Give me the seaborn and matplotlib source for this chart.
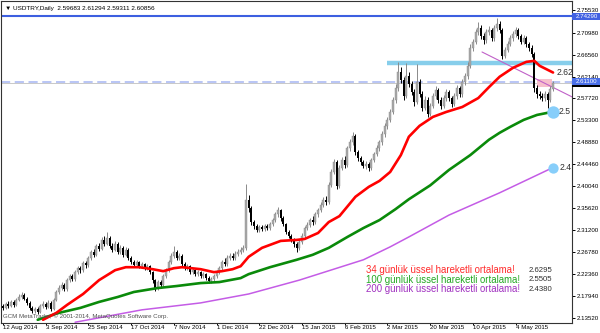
import numpy as np
import matplotlib
matplotlib.use("Agg")
import matplotlib.pyplot as plt
import matplotlib.transforms as mtransforms
from matplotlib.patches import Rectangle
import seaborn as sns

# ---------------- data ----------------
title_text = "\u25bc USDTRY,Daily  2.59683 2.61294 2.59311 2.60856"
first_open = 2.158

closes = [
    2.155, 2.163, 2.159, 2.167, 2.161, 2.171, 2.177, 2.181, 2.173, 2.165,
    2.155, 2.149, 2.153, 2.147, 2.159, 2.163, 2.157, 2.165, 2.153, 2.171,
    2.187, 2.195, 2.201, 2.193, 2.211, 2.219, 2.213, 2.227, 2.235, 2.231,
    2.245, 2.241, 2.256, 2.268, 2.262, 2.280, 2.274, 2.292, 2.284, 2.296,
    2.280, 2.272, 2.284, 2.268, 2.276, 2.262, 2.272, 2.256, 2.247, 2.241,
    2.247, 2.239, 2.243, 2.235, 2.239, 2.227, 2.211, 2.195, 2.207, 2.201,
    2.219, 2.231, 2.247, 2.260, 2.268, 2.256, 2.260, 2.243, 2.235, 2.239,
    2.227, 2.231, 2.223, 2.227, 2.219, 2.223, 2.215, 2.209, 2.213, 2.219,
    2.227, 2.235, 2.247, 2.243, 2.256, 2.260, 2.256, 2.264, 2.268, 2.272,
    2.276, 2.372, 2.356, 2.328, 2.320, 2.312, 2.318, 2.314, 2.320, 2.316,
    2.324, 2.332, 2.344, 2.352, 2.336, 2.324, 2.308, 2.300, 2.292, 2.284,
    2.276, 2.288, 2.300, 2.316, 2.322, 2.332, 2.328, 2.344, 2.352, 2.362,
    2.372, 2.368, 2.403, 2.429, 2.449, 2.401, 2.437, 2.453, 2.443, 2.477,
    2.489, 2.501, 2.469, 2.457, 2.449, 2.441, 2.445, 2.437, 2.453, 2.465,
    2.477, 2.489, 2.506, 2.522, 2.534, 2.550, 2.574, 2.598, 2.630, 2.614,
    2.582, 2.622, 2.606, 2.590, 2.570, 2.610, 2.586, 2.558, 2.574, 2.546,
    2.562, 2.582, 2.594, 2.574, 2.562, 2.578, 2.590, 2.578, 2.566, 2.582,
    2.598, 2.586, 2.610, 2.622, 2.643, 2.679, 2.691, 2.711, 2.719, 2.703,
    2.695, 2.711, 2.715, 2.699, 2.719, 2.727, 2.715, 2.663, 2.675, 2.687,
    2.699, 2.707, 2.715, 2.703, 2.691, 2.699, 2.687, 2.679, 2.667, 2.598,
    2.586, 2.582, 2.578, 2.586, 2.574, 2.59683, 2.60856]

highs = [
    2.163, 2.167, 2.168, 2.171, 2.170, 2.175, 2.183, 2.187, 2.184, 2.176,
    2.168, 2.159, 2.157, 2.156, 2.163, 2.168, 2.166, 2.170, 2.168, 2.175,
    2.192, 2.201, 2.207, 2.205, 2.215, 2.224, 2.223, 2.231, 2.240, 2.239,
    2.249, 2.250, 2.260, 2.272, 2.273, 2.284, 2.286, 2.297, 2.300, 2.308,
    2.299, 2.285, 2.289, 2.287, 2.281, 2.279, 2.277, 2.275, 2.259, 2.251,
    2.252, 2.250, 2.248, 2.246, 2.244, 2.242, 2.230, 2.214, 2.211, 2.212,
    2.223, 2.236, 2.252, 2.265, 2.279, 2.272, 2.266, 2.263, 2.247, 2.244,
    2.242, 2.236, 2.234, 2.232, 2.230, 2.228, 2.226, 2.219, 2.218, 2.224,
    2.232, 2.240, 2.252, 2.255, 2.261, 2.266, 2.265, 2.269, 2.273, 2.277,
    2.282, 2.405, 2.382, 2.360, 2.333, 2.325, 2.323, 2.322, 2.325, 2.324,
    2.329, 2.337, 2.349, 2.358, 2.355, 2.340, 2.327, 2.312, 2.304, 2.296,
    2.288, 2.293, 2.305, 2.321, 2.328, 2.337, 2.340, 2.349, 2.357, 2.368,
    2.378, 2.381, 2.409, 2.435, 2.456, 2.454, 2.443, 2.459, 2.462, 2.482,
    2.495, 2.509, 2.505, 2.474, 2.462, 2.454, 2.451, 2.450, 2.458, 2.470,
    2.483, 2.494, 2.511, 2.528, 2.540, 2.556, 2.580, 2.606, 2.651, 2.641,
    2.620, 2.648, 2.630, 2.612, 2.596, 2.646, 2.616, 2.592, 2.582, 2.580,
    2.569, 2.588, 2.603, 2.599, 2.580, 2.584, 2.596, 2.595, 2.583, 2.588,
    2.604, 2.603, 2.616, 2.629, 2.650, 2.686, 2.698, 2.718, 2.731, 2.725,
    2.709, 2.717, 2.723, 2.720, 2.726, 2.739, 2.733, 2.720, 2.681, 2.693,
    2.705, 2.713, 2.721, 2.719, 2.708, 2.705, 2.703, 2.692, 2.684, 2.671,
    2.604, 2.593, 2.589, 2.592, 2.591, 2.603, 2.61294]

lows = [
    2.150, 2.152, 2.155, 2.156, 2.157, 2.158, 2.168, 2.173, 2.170, 2.161,
    2.151, 2.145, 2.144, 2.142, 2.145, 2.155, 2.153, 2.154, 2.149, 2.150,
    2.168, 2.183, 2.191, 2.189, 2.190, 2.207, 2.209, 2.210, 2.223, 2.226,
    2.228, 2.236, 2.238, 2.252, 2.258, 2.259, 2.270, 2.271, 2.280, 2.281,
    2.276, 2.268, 2.269, 2.264, 2.263, 2.258, 2.259, 2.252, 2.243, 2.237,
    2.238, 2.235, 2.235, 2.231, 2.232, 2.223, 2.206, 2.189, 2.192, 2.196,
    2.198, 2.215, 2.228, 2.243, 2.256, 2.252, 2.251, 2.239, 2.231, 2.231,
    2.223, 2.223, 2.219, 2.219, 2.215, 2.215, 2.211, 2.205, 2.205, 2.209,
    2.215, 2.223, 2.231, 2.239, 2.240, 2.252, 2.252, 2.252, 2.260, 2.264,
    2.268, 2.272, 2.348, 2.322, 2.314, 2.308, 2.307, 2.309, 2.310, 2.311,
    2.312, 2.320, 2.328, 2.339, 2.331, 2.320, 2.303, 2.295, 2.287, 2.278,
    2.268, 2.272, 2.284, 2.296, 2.311, 2.318, 2.323, 2.324, 2.339, 2.348,
    2.358, 2.362, 2.364, 2.398, 2.424, 2.394, 2.397, 2.432, 2.438, 2.440,
    2.472, 2.484, 2.463, 2.451, 2.443, 2.436, 2.435, 2.431, 2.433, 2.449,
    2.461, 2.472, 2.484, 2.500, 2.516, 2.529, 2.545, 2.568, 2.593, 2.608,
    2.575, 2.578, 2.600, 2.584, 2.563, 2.566, 2.580, 2.552, 2.553, 2.540,
    2.542, 2.557, 2.577, 2.568, 2.556, 2.557, 2.573, 2.572, 2.560, 2.561,
    2.577, 2.580, 2.581, 2.605, 2.617, 2.638, 2.673, 2.686, 2.705, 2.697,
    2.688, 2.690, 2.705, 2.693, 2.694, 2.713, 2.709, 2.657, 2.658, 2.670,
    2.682, 2.693, 2.701, 2.697, 2.686, 2.686, 2.681, 2.673, 2.661, 2.591,
    2.579, 2.576, 2.572, 2.573, 2.558, 2.570, 2.59311]

# EMA curves (bar index, value)
ema34_idx = [15, 20, 24, 30, 36, 42, 46, 51, 56, 60, 64, 67, 74, 79, 82, 86, 89,
             92, 97, 104, 110, 113, 118, 122, 126, 132, 137, 141, 145, 149, 152,
             156, 161, 166, 172, 178, 182, 186, 191, 196, 199, 201, 206]
ema34_val = [2.131, 2.145, 2.161, 2.183, 2.211, 2.231, 2.237, 2.237, 2.233, 2.229,
             2.235, 2.237, 2.233, 2.227, 2.229, 2.233, 2.239, 2.258, 2.276, 2.290,
             2.292, 2.294, 2.306, 2.328, 2.340, 2.379, 2.399, 2.411, 2.429, 2.463,
             2.500, 2.522, 2.540, 2.550, 2.560, 2.578, 2.600, 2.621, 2.639, 2.651,
             2.653, 2.643, 2.6295]
ema100_idx = [13, 21, 29, 36, 43, 49, 58, 65, 74, 81, 89, 92, 100, 110, 116, 122,
              129, 135, 141, 147, 152, 160, 167, 175, 182, 186, 190, 195, 200, 206]
ema100_val = [2.131, 2.145, 2.155, 2.167, 2.177, 2.187, 2.195, 2.199, 2.205, 2.207,
              2.215, 2.223, 2.237, 2.252, 2.262, 2.276, 2.298, 2.316, 2.332, 2.354,
              2.374, 2.402, 2.433, 2.463, 2.494, 2.508, 2.520, 2.534, 2.544, 2.5505]
ema200_idx = [27, 52, 74, 92, 111, 135, 145, 152, 167, 186, 206]
ema200_val = [2.126, 2.151, 2.165, 2.183, 2.211, 2.252, 2.278, 2.298, 2.342, 2.387, 2.438]

legend_texts = ["34 günlük üssel hareketli ortalama!",
                "100 günlük üssel hareketli ortalama!",
                "200 günlük üssel hareketli ortalama!"]
legend_values = ["2.6295", "2.5505", "2.4380"]
end_values = [2.6295, 2.5505, 2.4380]
end_labels = ["2.62", "2.5", "2.4"]        # visible (cut) parts at the right edge
end_label_x = [207.2, 208.0, 208.3]

tick_idx = list(range(0, 193, 16))
tick_labels = ["12 Aug 2014", "3 Sep 2014", "25 Sep 2014", "17 Oct 2014", "7 Nov 2014",
               "1 Dec 2014", "22 Dec 2014", "15 Jan 2015", "6 Feb 2015", "2 Mar 2015",
               "20 Mar 2015", "10 Apr 2015", "4 May 2015"]
y_ticks = [2.13520, 2.17940, 2.22360, 2.26780, 2.31200, 2.35620, 2.40040, 2.44460,
           2.48880, 2.53300, 2.57720, 2.62140, 2.66560, 2.70980, 2.75530]

resistance_level = 2.74290     # dark blue line
zone_level = 2.648             # light blue segment
zone_start = 143.8
ask_level = 2.61100            # dashed line
bid_level = 2.60856            # grey line
trend_x = [179.4, 214.0]
trend_y = [2.6709, 2.5780]
pink_box = [200.0, 2.600, 5.6, 0.0165]   # x, y, width, height

# ---------------- style ----------------
sns.set_style("white")
plt.rcParams['font.family'] = ['Liberation Sans', 'DejaVu Sans']

fig = plt.figure(figsize=(6.0, 3.33), dpi=100)
ax = fig.add_axes([1 / 600, 10.3 / 333, 571 / 600, 321.7 / 333])
ax.set_xlim(-0.75, 213.1)
ax.set_ylim(2.1251, 2.7737)

idx = np.arange(len(closes))
c = np.array(closes)
o = np.array([first_open] + closes[:-1])
h = np.array(highs)
l = np.array(lows)
up = c >= o

# reference lines and zones
ax.axhline(resistance_level, color='#3d5fe0', lw=1.5, zorder=2)
ax.plot([zone_start, 214], [zone_level, zone_level], color='#87ceeb', lw=3.2,
        solid_capstyle='butt', zorder=2)
ax.axhline(bid_level, color='#c8c8c8', lw=0.7, zorder=1.5)
ax.axhline(ask_level, color='#a5b5f2', lw=1.1, dashes=(6, 3), zorder=1.6)
ax.add_patch(Rectangle((pink_box[0], pink_box[1]), pink_box[2], pink_box[3],
                       facecolor='#f7bfcc', edgecolor='none', zorder=1.8))
ax.plot(trend_x, trend_y, color='#c060c8', lw=0.8, zorder=2.5)

# candles
ax.vlines(idx[up], l[up], h[up], color='#8a8a8a', lw=0.7, zorder=3)
ax.vlines(idx[~up], l[~up], h[~up], color='black', lw=0.7, zorder=3)
ax.bar(idx[up], (c - o)[up], bottom=o[up], width=0.75, color='#a9a9a9',
       edgecolor='#8a8a8a', linewidth=0.3, zorder=3.5)
ax.bar(idx[~up], (o - c)[~up], bottom=c[~up], width=0.75, color='black',
       linewidth=0, zorder=3.5)

# EMAs
sns.lineplot(x=ema200_idx, y=ema200_val, ax=ax, color='#c45ce6', lw=1.1, zorder=4)
sns.lineplot(x=ema100_idx, y=ema100_val, ax=ax, color='#0a8a0a', lw=1.9, zorder=4)
sns.lineplot(x=ema34_idx, y=ema34_val, ax=ax, color='#ff0000', lw=1.9, zorder=4)

last_i = idx[-1]
ax.scatter([last_i], [end_values[1]], s=80, color='#87cefa', zorder=5, linewidths=0)
ax.scatter([last_i], [end_values[2]], s=55, color='#87cefa', zorder=5, linewidths=0)

# value labels at the line ends (cut by the chart edge in the reference)
for xv, val, lab in zip(end_label_x, end_values, end_labels):
    ax.text(xv, val, lab, fontsize=6.2, color='#303030', ha='left',
            va='center', clip_on=True, zorder=6)

# axes styling
for sp in ax.spines.values():
    sp.set_color('#333333')
    sp.set_linewidth(0.8)
ax.yaxis.tick_right()
ax.set_yticks(y_ticks)
ax.set_yticklabels([f"{v:.5f}" for v in y_ticks])
ax.set_xticks(tick_idx)
ax.set_xticklabels(tick_labels, ha='left')
ax.tick_params(axis='y', right=True, left=False, length=2.2, width=0.7, pad=1.2,
               labelsize=4.4, colors='black')
ax.tick_params(axis='x', bottom=True, length=1.5, width=0.7, pad=0.5,
               labelsize=4.4, colors='black')
ax.set_xlabel("")
ax.set_ylabel("")
ax.grid(False)

# price boxes on the right scale
trans = mtransforms.blended_transform_factory(ax.transAxes, ax.transData)
half = 0.0075
ax.add_patch(Rectangle((1.0, bid_level - half), 0.05, 2 * half, transform=trans,
                       facecolor='black', edgecolor='none', clip_on=False, zorder=7))
for lvl, col in [(resistance_level, '#4262e2'), (ask_level, '#4a6fe8')]:
    ax.add_patch(Rectangle((1.0, lvl - half), 0.05, 2 * half, transform=trans,
                           facecolor=col, edgecolor='none', clip_on=False, zorder=8))
    ax.text(1.006, lvl, f"{lvl:.5f}", transform=trans, fontsize=4.4, color='white',
            ha='left', va='center', clip_on=False, zorder=9)

# texts
ax.text(0.007, 0.978, title_text, transform=ax.transAxes, fontsize=4.6,
        color='black', ha='left', va='center', zorder=9)
ax.text(0.0035, 0.021, "GCM MetaTrader, \u00a9 2001-2014, MetaQuotes Software Corp.",
        transform=ax.transAxes, fontsize=4.4, color='#505050', ha='left',
        va='center', zorder=9)
legend_colors = ['#ff2a2a', '#22a822', '#a030c0']
legend_y = [0.1636, 0.1341, 0.1046]
for txt, val, col, yy in zip(legend_texts, legend_values, legend_colors, legend_y):
    ax.text(0.639, yy, txt, transform=ax.transAxes, fontsize=6.9, color=col,
            ha='left', va='center', zorder=9)
    ax.text(0.965, yy, val, transform=ax.transAxes, fontsize=5.6, color='#303030',
            ha='right', va='center', zorder=9)

fig.savefig("out.png", dpi=100)
